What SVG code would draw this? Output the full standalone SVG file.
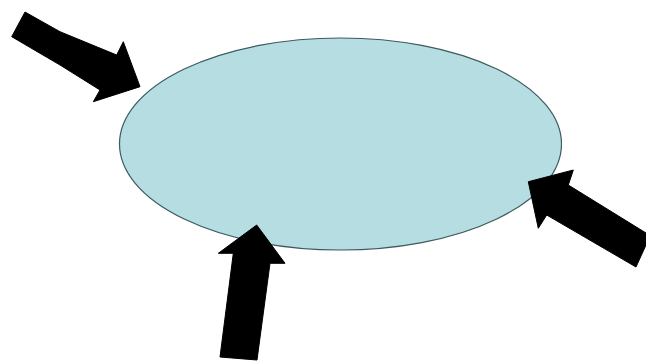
<svg xmlns="http://www.w3.org/2000/svg" width="646" height="362" viewBox="0 0 646 362">
<style>
.arrow{fill:#000;stroke:#000;stroke-width:1;stroke-linejoin:miter}
.blob{fill:#b6dde2;stroke:#3c5a60;stroke-width:1.2}
</style>
<rect width="646" height="362" fill="#fff"/>
<g id="ellipse"><ellipse class="blob" cx="340.5" cy="144" rx="221" ry="106"/></g>
<g id="connectors">
<polygon class="arrow" points="25,12 60,31.7 116.7,55 123.3,41.7 140,86.7 93.3,101.7 100,90 60,65 11.7,36.7"/>
<polygon class="arrow" points="646,233 646,245 636,267 546.7,215 538.3,228.3 528.3,181.7 573.3,170 568.3,185"/>
<polygon class="arrow" points="220,357 233.3,253.3 218.3,253.3 256.7,225 285,263.3 270,263.3 257,360"/>
</g>
</svg>
